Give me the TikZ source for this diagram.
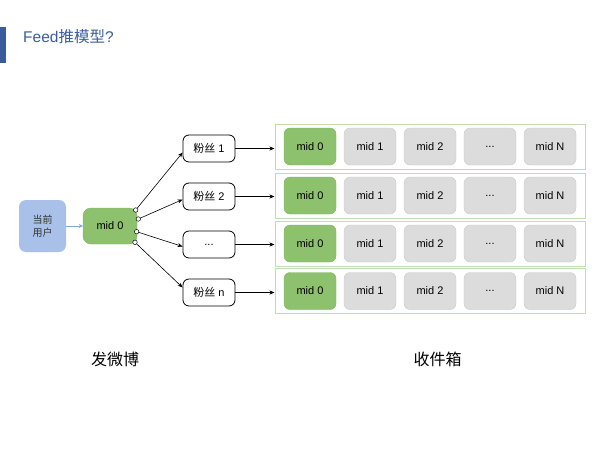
\documentclass[tikz,border=0pt]{standalone}
\usepackage{fontspec}
\setmainfont{Liberation Sans}
\newfontfamily\cjk{Noto Sans CJK SC}
\usetikzlibrary{arrows.meta}
\definecolor{titleblue}{HTML}{3A5C9E}
\definecolor{userblue}{HTML}{A9C1E8}
\definecolor{arrowblue}{HTML}{7FA7DA}
\definecolor{midgreen}{HTML}{8DC16D}
\definecolor{midgreenb}{HTML}{7DB35E}
\definecolor{cellgray}{HTML}{DCDCDC}
\definecolor{rowgreen}{HTML}{C3DDB3}
\tikzset{
  cellbase/.style={rounded corners=6pt, minimum width=52pt, minimum height=37pt, inner sep=0pt, font=\fontsize{11}{13}\selectfont},
  greencell/.style={cellbase, fill=midgreen, draw=midgreenb, line width=0.4pt},
  graycell/.style={cellbase, fill=cellgray, draw=cellgray!90!black, line width=0.3pt},
  rowbox/.style={draw=rowgreen, line width=1pt, minimum width=310pt, minimum height=45pt, inner sep=0pt},
  fanbox/.style={draw=black, fill=white, rounded corners=6pt, line width=0.8pt, minimum width=52pt, minimum height=27pt, inner sep=0pt, font=\fontsize{11}{13}\selectfont},
  port/.style={circle, draw=black, fill=white, line width=0.5pt, inner sep=0pt, minimum size=4.5pt},
  arr/.style={line width=0.6pt, -{Stealth[length=5pt,width=4pt]}},
  biglabel/.style={font=\cjk\fontsize{16}{18}\selectfont, text=black}
}
\begin{document}
\begin{tikzpicture}[x=1pt,y=-1pt]
\useasboundingbox (0,0) rectangle (604,453);
% title
\fill[titleblue] (0,27) rectangle (6,63);
\node[anchor=west, text=titleblue, inner sep=0pt, font=\fontsize{15.5}{18}\selectfont] (title) at (23,37) {Feed{\cjk 推模型}?};
% user
\node[fill=userblue, rounded corners=7pt, minimum width=47pt, minimum height=52pt, inner sep=0pt, align=center, font=\cjk\fontsize{10}{13}\selectfont, text=black!80] (user) at (42.5,226) {当前\\用户};
% mid 0 sender
\node[greencell, minimum width=54pt, minimum height=36pt, rounded corners=8pt] (m0) at (110,226) {mid 0};
\draw[line width=0.8pt, draw=arrowblue, -{Stealth[length=4pt,width=4pt]}] (user.east) -- (m0.west);
% ports
\node[port] (p1) at (135.7,210) {};
\node[port] (p2) at (138.3,219) {};
\node[port] (p3) at (136.7,231.7) {};
\node[port] (p4) at (135,242.3) {};
% followers
\node[fanbox] (f1) at (209,148.5) {{\cjk 粉丝} 1};
\node[fanbox] (f2) at (209,196.5) {{\cjk 粉丝} 2};
\node[fanbox] (f3) at (209,244.5) {...};
\node[fanbox] (f4) at (209,292.5) {{\cjk 粉丝} n};
\draw[arr] (p1) -- ([yshift=-4pt]f1.west);
\draw[arr] (p2) -- ([yshift=-3pt]f2.west);
\draw[arr] (p3) -- ([yshift=-2pt]f3.west);
\draw[arr] (p4) -- ([yshift=5pt]f4.west);
% inbox rows
\foreach \r/\y in {1/146.5, 2/195.5, 3/243.5, 4/291} {
  \node[rowbox] (row\r) at (430,\y) {};
  \node[greencell] (c\r a) at (310,\y) {mid 0};
  \node[graycell] (c\r b) at (370,\y) {mid 1};
  \node[graycell] (c\r c) at (430,\y) {mid 2};
  \node[graycell] (c\r d) at (490,\y) {...};
  \node[graycell] (c\r e) at (550,\y) {mid N};
}
\foreach \r in {1,2,3,4} {
  \draw[arr] (f\r.east) -- (f\r.east -| row\r.west);
}
% labels
\node[biglabel] (send) at (115,359) {发微博};
\node[biglabel] (inbox) at (437.5,359) {收件箱};
\end{tikzpicture}
\end{document}
